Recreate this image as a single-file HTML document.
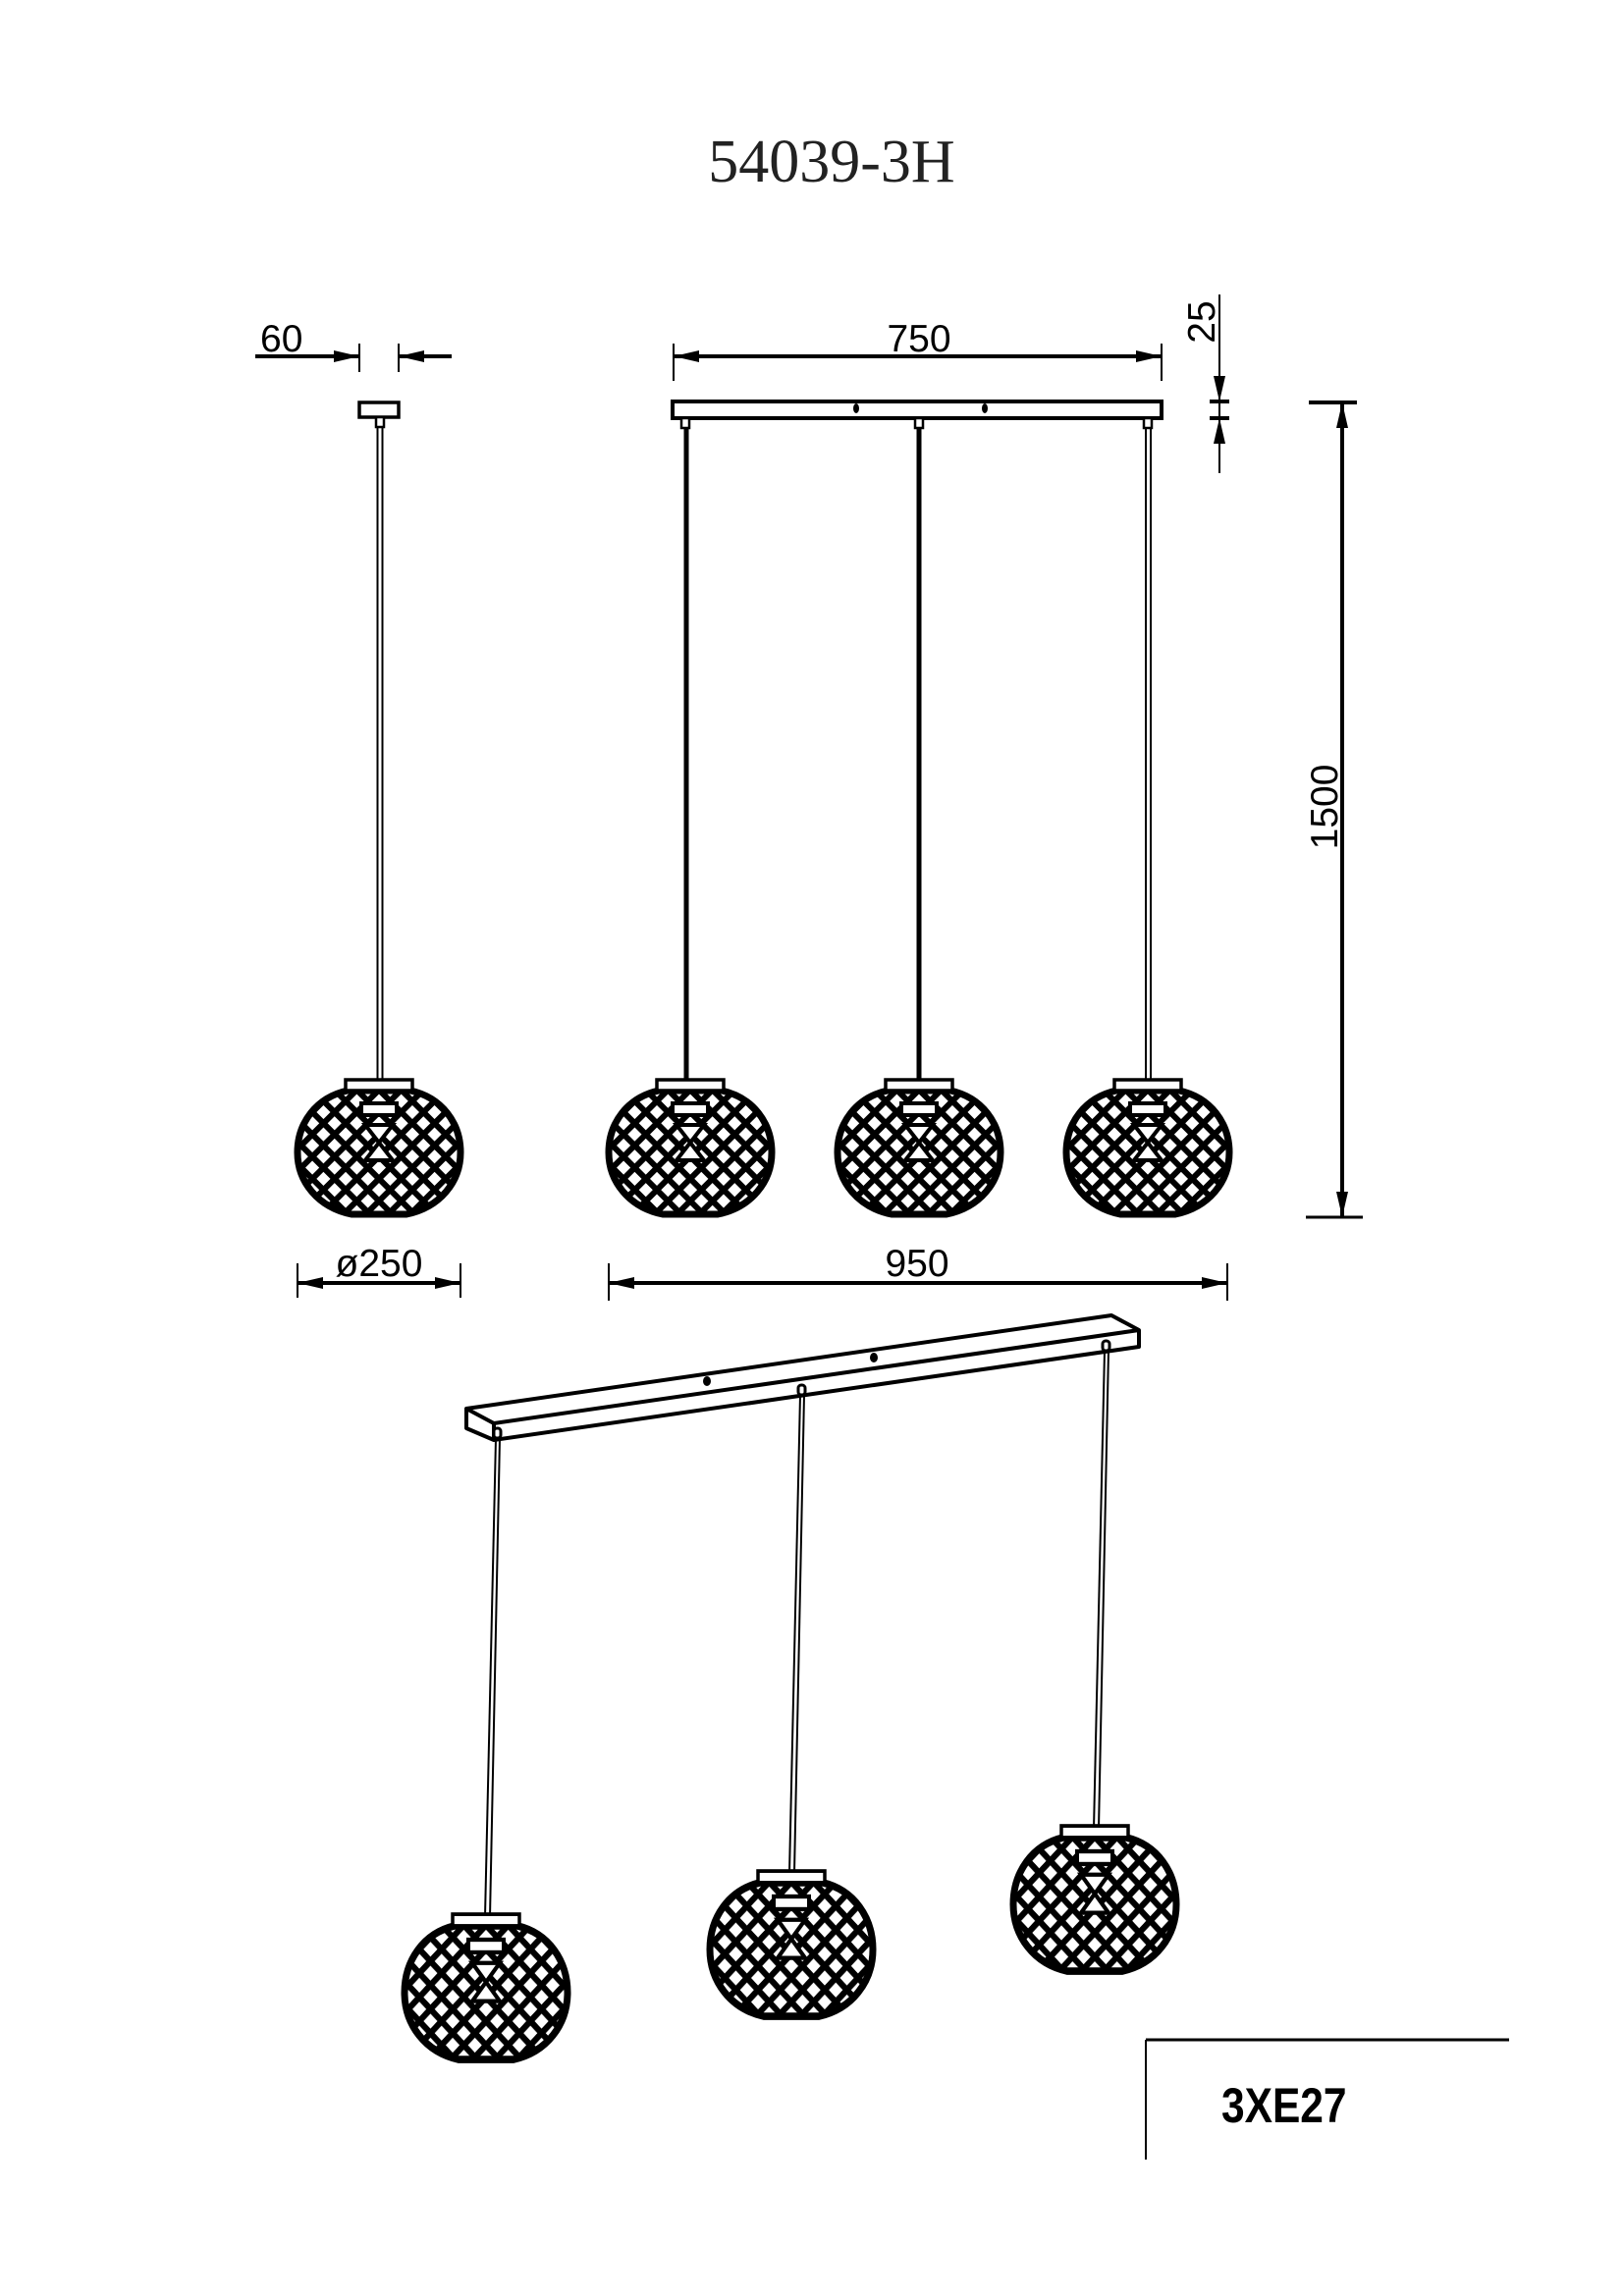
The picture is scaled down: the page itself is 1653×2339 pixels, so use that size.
<!DOCTYPE html>
<html><head><meta charset="utf-8"><style>
html,body{margin:0;padding:0;background:#fff}
svg{display:block}
.d{font-family:"Liberation Sans",sans-serif;font-size:39px;fill:#000}
</style></head><body>
<svg width="1653" height="2339" viewBox="0 0 1653 2339" xmlns="http://www.w3.org/2000/svg">
<defs>
<pattern id="lat" width="16" height="16" patternUnits="userSpaceOnUse" patternTransform="rotate(45)">
<rect x="0" y="0" width="6" height="16" fill="#000"/>
<rect x="0" y="0" width="16" height="6" fill="#000"/>
</pattern>
<path id="bshape" d="M-32,-63 L32,-63 C64,-56 83,-30 83,0 C83,30 62,56 28,63 L-28,63 C-62,56 -83,30 -83,0 C-83,-30 -64,-56 -32,-63 Z"/>
<clipPath id="bc"><use href="#bshape"/></clipPath>
<g id="ball">
<g clip-path="url(#bc)"><rect x="-90" y="-70" width="180" height="140" fill="url(#lat)"/>
<rect x="-18" y="-50" width="36" height="12" fill="#fff" stroke="#000" stroke-width="4"/>
<path d="M-14,-28 L14,-28 L0,-10 Z M-14,8 L14,8 L0,-10 Z" fill="#fff" stroke="#000" stroke-width="4"/>
</g>
<use href="#bshape" fill="none" stroke="#000" stroke-width="7"/>
<rect x="-34" y="-74" width="68" height="11" fill="#fff" stroke="#000" stroke-width="3.5"/>
</g>
<path id="arR" d="M0,0 L-26,-6 L-26,6 Z"/>
</defs>

<text x="847" y="185" text-anchor="middle" font-family="'Liberation Serif',serif" font-size="62" fill="#222">54039-3H</text>

<g stroke="#000" fill="none">
<line x1="260" y1="363" x2="366" y2="363" stroke-width="4"/>
<line x1="406" y1="363" x2="460" y2="363" stroke-width="4"/>
<line x1="366" y1="350" x2="366" y2="379" stroke-width="2"/>
<line x1="406" y1="350" x2="406" y2="379" stroke-width="2"/>
<line x1="686" y1="363" x2="1183" y2="363" stroke-width="4"/>
<line x1="686" y1="350" x2="686" y2="388" stroke-width="2"/>
<line x1="1183" y1="350" x2="1183" y2="388" stroke-width="2"/>
<line x1="1242" y1="300" x2="1242" y2="482" stroke-width="2"/>
<line x1="1232" y1="409" x2="1252" y2="409" stroke-width="4"/>
<line x1="1232" y1="426" x2="1252" y2="426" stroke-width="4"/>
<line x1="1333" y1="410" x2="1382" y2="410" stroke-width="4"/>
<line x1="1330" y1="1240" x2="1388" y2="1240" stroke-width="3"/>
<line x1="1367" y1="410" x2="1367" y2="1240" stroke-width="4"/>
<line x1="303" y1="1307" x2="469" y2="1307" stroke-width="4"/>
<line x1="303" y1="1287" x2="303" y2="1322" stroke-width="2"/>
<line x1="469" y1="1287" x2="469" y2="1322" stroke-width="2"/>
<line x1="620" y1="1307" x2="1250" y2="1307" stroke-width="4"/>
<line x1="620" y1="1287" x2="620" y2="1325" stroke-width="2"/>
<line x1="1250" y1="1287" x2="1250" y2="1325" stroke-width="2"/>
</g>
<g fill="#000">
<use href="#arR" x="366" y="363"/>
<use href="#arR" transform="translate(406,363) rotate(180)"/>
<use href="#arR" transform="translate(686,363) rotate(180)"/>
<use href="#arR" x="1183" y="363"/>
<use href="#arR" transform="translate(1242,409) rotate(90)"/>
<use href="#arR" transform="translate(1242,426) rotate(-90)"/>
<use href="#arR" transform="translate(1367,410) rotate(-90)"/>
<use href="#arR" transform="translate(1367,1240) rotate(90)"/>
<use href="#arR" transform="translate(303,1307) rotate(180)"/>
<use href="#arR" x="469" y="1307"/>
<use href="#arR" transform="translate(620,1307) rotate(180)"/>
<use href="#arR" x="1250" y="1307"/>
</g>
<text class="d" x="265" y="358">60</text>
<text class="d" x="936" y="358" text-anchor="middle">750</text>
<text class="d" transform="translate(1237,328) rotate(-90)" text-anchor="middle">25</text>
<text class="d" transform="translate(1362,822) rotate(-90)" text-anchor="middle">1500</text>
<text class="d" x="386" y="1300" text-anchor="middle">ø250</text>
<text class="d" x="934" y="1300" text-anchor="middle">950</text>

<g stroke="#000" fill="#fff">
<rect x="366" y="410" width="40" height="15" stroke-width="3.5"/>
<rect x="383" y="425" width="8" height="10" stroke-width="2.5"/>
<line x1="384.5" y1="435" x2="384.5" y2="1099" stroke-width="2"/>
<line x1="389.5" y1="435" x2="389.5" y2="1099" stroke-width="2"/>
<rect x="685" y="409" width="498" height="17" stroke-width="4"/>
<rect x="694" y="426" width="8" height="10" stroke-width="2.5"/>
<rect x="932" y="426" width="8" height="10" stroke-width="2.5"/>
<rect x="1165" y="426" width="8" height="10" stroke-width="2.5"/>
</g>
<g stroke="#000">
<line x1="699" y1="436" x2="699" y2="1099" stroke-width="5"/>
<line x1="936" y1="436" x2="936" y2="1099" stroke-width="5"/>
<line x1="1167" y1="436" x2="1167" y2="1099" stroke-width="2"/>
<line x1="1172" y1="436" x2="1172" y2="1099" stroke-width="2"/>
</g>
<ellipse cx="872" cy="416" rx="3" ry="5" fill="#000"/>
<ellipse cx="1003" cy="416" rx="3" ry="5" fill="#000"/>
<use href="#ball" x="386" y="1174"/>
<use href="#ball" x="703" y="1174"/>
<use href="#ball" x="936" y="1174"/>
<use href="#ball" x="1169" y="1174"/>

<g stroke="#000" stroke-width="4" fill="#fff" stroke-linejoin="round">
<path d="M475,1435 L1132,1340 L1160,1355 L1160,1372 L503,1467 L475,1455 Z"/>
<path d="M475,1435 L503,1450 L1160,1355 M503,1450 L503,1467" fill="none"/>
</g>
<ellipse cx="720" cy="1407" rx="4" ry="5" fill="#000"/>
<ellipse cx="890" cy="1383" rx="4" ry="5" fill="#000"/>
<g stroke="#000" fill="#fff" stroke-width="3">
<rect x="503" y="1455" width="7" height="10" rx="3"/>
<rect x="813" y="1411" width="7" height="10" rx="3"/>
<rect x="1123" y="1366" width="7" height="10" rx="3"/>
</g>
<g stroke="#000" stroke-width="2">
<line x1="505" y1="1465" x2="494" y2="1953"/><line x1="509" y1="1465" x2="499" y2="1953"/>
<line x1="815" y1="1421" x2="804" y2="1908"/><line x1="819" y1="1421" x2="809" y2="1908"/>
<line x1="1125" y1="1376" x2="1114" y2="1863"/><line x1="1129" y1="1376" x2="1119" y2="1863"/>
</g>
<use href="#ball" transform="translate(495,2030) scale(1,1.08)"/>
<use href="#ball" transform="translate(806,1986) scale(1,1.08)"/>
<use href="#ball" transform="translate(1115,1940) scale(1,1.08)"/>

<line x1="1167" y1="2078" x2="1537" y2="2078" stroke="#000" stroke-width="3"/>
<line x1="1167" y1="2078" x2="1167" y2="2200" stroke="#000" stroke-width="2"/>
<text x="1244" y="2162" font-family="'Liberation Sans',sans-serif" font-weight="bold" font-size="50" transform="translate(1244,0) scale(0.85,1) translate(-1244,0)" fill="#000">3XE27</text>
</svg>
</body></html>
